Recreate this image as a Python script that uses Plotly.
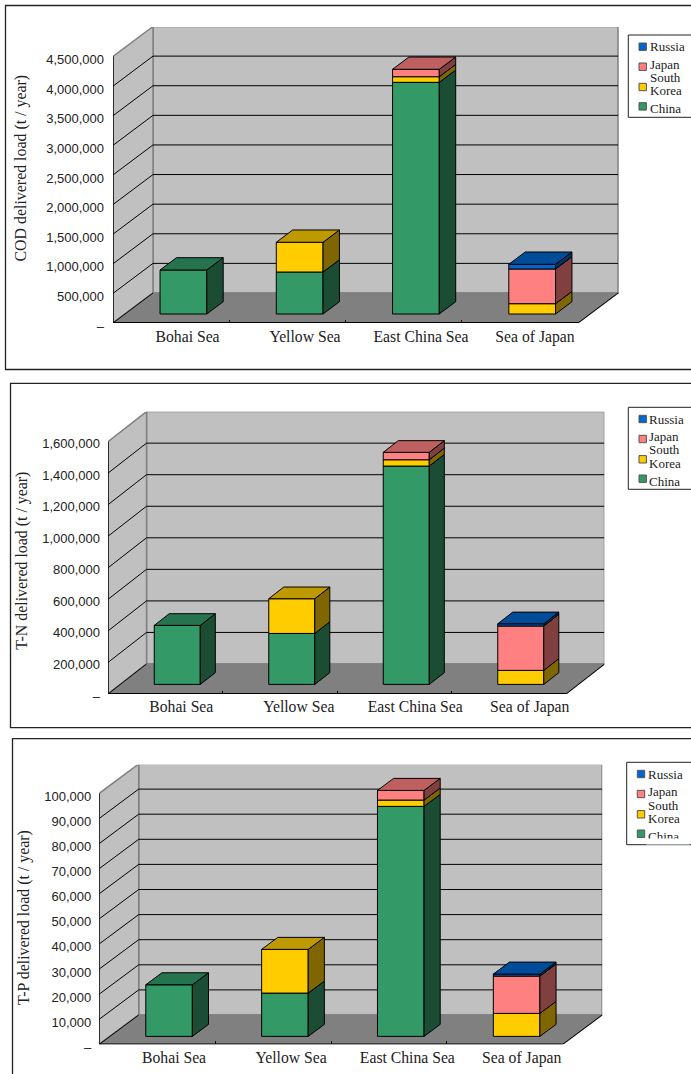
import plotly.graph_objects as go

# Delivered pollutant load to each sea, by source country (t / year)
seas = ["Bohai Sea", "Yellow Sea", "East China Sea", "Sea of Japan"]
countries = ["China", "South Korea", "Japan", "Russia"]

cod_china = [743000, 709000, 3912000, 0]
cod_korea = [0, 502000, 95000, 174000]
cod_japan = [0, 0, 125000, 586000]
cod_russia = [0, 0, 0, 79000]
cod_ticks = [0, 500000, 1000000, 1500000, 2000000, 2500000, 3000000, 3500000, 4000000, 4500000]

tn_china = [374000, 323000, 1384000, 0]
tn_korea = [0, 220000, 40000, 89000]
tn_japan = [0, 0, 47000, 281000]
tn_russia = [0, 0, 0, 14000]
tn_ticks = [0, 200000, 400000, 600000, 800000, 1000000, 1200000, 1400000, 1600000]

tp_china = [20560, 17250, 91630, 0]
tp_korea = [0, 17410, 2520, 9160]
tp_japan = [0, 0, 3850, 14860]
tp_russia = [0, 0, 0, 800]
tp_ticks = [0, 10000, 20000, 30000, 40000, 50000, 60000, 70000, 80000, 90000, 100000]

W, H = 691, 1074
SERIF = "Liberation Serif, Times New Roman, serif"
SANS = "Liberation Sans, Arial, sans-serif"

# face colours per country: front, top, side
faces = {
    "China": ("#339966", "#267350", "#1A4D33"),
    "South Korea": ("#FFCC00", "#BF9900", "#806600"),
    "Japan": ("#FF8080", "#BF6060", "#804040"),
    "Russia": ("#0066CC", "#004C99", "#003366"),
}

# pixel geometry of each 3-D box, plus the frame and key around it
panels = [
    dict(title="COD delivered load (t / year)", series=[cod_china, cod_korea, cod_japan, cod_russia],
         ticks=cod_ticks, left=113, floor=323, cat_w=116.25, dx=40, dy=30, right=619, top=27,
         step_px=29.61, front=0.30, bar_d=0.41, bar_nudge=0.3, standoff=8, shift=3, label_gap=2,
         label_off=[16.4, 17.6, 17.4, 15.1], title_x=20.5, title_y=168,
         frame=(5.5, 5.5, 369.5), key=(628.3, 35, 117.3), key_text=650, key_swatch=642.7),
    dict(title="T-N delivered load (t / year)", series=[tn_china, tn_korea, tn_japan, tn_russia],
         ticks=tn_ticks, left=108, floor=694, cat_w=114.5, dx=38.5, dy=30, right=604.3, top=411.7,
         step_px=31.55, front=0.32, bar_d=0.39, bar_nudge=-0.3, standoff=7, shift=2, label_gap=1,
         label_off=[16, 19, 21, 21], title_x=21.7, title_y=561,
         frame=(10.5, 383.3, 727.7), key=(628.3, 407.3, 489.3), key_text=649.3, key_swatch=642.7),
    dict(title="T-P delivered load (t / year)", series=[tp_china, tp_korea, tp_japan, tp_russia],
         ticks=tp_ticks, left=99.3, floor=1044.3, cat_w=115.85, dx=39.4, dy=29.3, right=602.3, top=764.7,
         step_px=25.1, front=0.27, bar_d=0.41, bar_nudge=1.2, standoff=7, shift=3, label_gap=2,
         label_off=[16.8, 18, 18.4, 16.9], title_x=24, title_y=918,
         frame=(12.5, 738.7, 1090), key=(626.7, 762.3, 844.7), key_text=647.7, key_swatch=641),
]

BAR_FRACTION = 0.402
WALL = "#C0C0C0"
FLOOR = "#808080"
EDGE = "#808080"
INK = "#000000"

fig = go.Figure()
shapes, annotations = [], []
layout_axes = {}


def px(x):
    return x / W


def py(y):
    return 1 - y / H


for n, p in enumerate(panels, start=1):
    suffix = "" if n == 1 else str(n)
    xref, yref = f"x{suffix}", f"y{suffix}"
    value_per_px = (p["ticks"][1] - p["ticks"][0]) / p["step_px"]
    dxu = p["dx"] / p["cat_w"]           # full box depth in category units
    dyu = p["dy"] * value_per_px         # full box depth in value units
    ymax_front = p["ticks"][-1]
    n_cat = len(seas)

    def poly(points, fill, line, width=1, layer="below"):
        path = "M " + " L ".join(f"{a},{b}" for a, b in points) + " Z"
        shapes.append(dict(type="path", path=path, xref=xref, yref=yref, fillcolor=fill,
                           line=dict(color=line, width=width), layer=layer))

    def seg(x0, y0, x1, y1, color=INK, width=1):
        shapes.append(dict(type="line", x0=x0, y0=y0, x1=x1, y1=y1, xref=xref, yref=yref,
                           line=dict(color=color, width=width), layer="below"))

    # walls and floor
    poly([(dxu, dyu), (n_cat + dxu, dyu), (n_cat + dxu, ymax_front + dyu), (dxu, ymax_front + dyu)], WALL, EDGE, 1.5)
    poly([(0, 0), (dxu, dyu), (dxu, ymax_front + dyu), (0, ymax_front)], WALL, EDGE, 1.5)
    poly([(0, 0), (n_cat, 0), (n_cat + dxu, dyu), (dxu, dyu)], FLOOR, EDGE, 1.5)

    # gridlines run across the left wall and along the back wall
    for v in p["ticks"][1:-1]:
        seg(0, v, dxu, v + dyu)
        seg(dxu, v + dyu, n_cat + dxu, v + dyu)
    seg(0, 0, dxu, dyu)
    seg(n_cat, 0, n_cat + dxu, dyu)
    seg(0, 0, 0, ymax_front, INK, 1.4)
    seg(0, 0, n_cat, 0, INK, 1.8)

    # 3-D stack: front faces are bars, sides and lids are projected from the same values
    centers = [i + 0.5 + p["front"] * dxu + p["bar_nudge"] / p["cat_w"] for i in range(n_cat)]
    half = BAR_FRACTION / 2
    ddx, ddy = p["bar_d"] * dxu, p["bar_d"] * dyu
    lift = p["front"] * dyu
    running = [0] * n_cat
    for name, values in zip(countries, p["series"]):
        front_c, top_c, side_c = faces[name]
        bases = [lift + r for r in running]
        fig.add_trace(go.Bar(
            x=centers, y=[v if v else None for v in values], base=bases, width=BAR_FRACTION,
            name=name, xaxis=xref, yaxis=yref, showlegend=False,
            marker=dict(color=front_c, line=dict(color=INK, width=1)),
        ))
        sx, sy = [], []
        for c, b, v in zip(centers, bases, values):
            if v:
                r = c + half
                sx += [r, r + ddx, r + ddx, r, r, None]
                sy += [b, b + ddy, b + v + ddy, b + v, b, None]
        fig.add_trace(go.Scatter(x=sx, y=sy, mode="lines", fill="toself", fillcolor=side_c,
                                 line=dict(color=INK, width=1), xaxis=xref, yaxis=yref,
                                 name=name + " side", showlegend=False, hoverinfo="skip"))
        running = [r + v for r, v in zip(running, values)]

    # the lid takes the colour of the uppermost non-empty segment
    for i, c in enumerate(centers):
        owner = [name for name, vals in zip(countries, p["series"]) if vals[i]][-1]
        t = lift + running[i]
        fig.add_trace(go.Scatter(
            x=[c - half, c + half, c + half + ddx, c - half + ddx, c - half],
            y=[t, t, t + ddy, t + ddy, t],
            mode="lines", fill="toself", fillcolor=faces[owner][1],
            line=dict(color=INK, width=1), xaxis=xref, yaxis=yref,
            name=owner + " lid", showlegend=False, hoverinfo="skip"))

    xrange_max = (p["right"] - p["left"]) / p["cat_w"]
    yrange_max = (p["floor"] - p["top"]) * value_per_px
    layout_axes[f"xaxis{suffix}"] = dict(
        domain=[px(p["left"]), px(p["right"])], range=[0, xrange_max], anchor=yref,
        showgrid=False, zeroline=False, showline=False, fixedrange=True,
        tickmode="array", ticks="",
        tickvals=[i + 0.5 + off / p["cat_w"] for i, off in enumerate(p["label_off"])],
        ticktext=seas, tickfont=dict(family=SERIF, size=15.7, color="#222222"),
        ticklabelstandoff=p["label_gap"],
        minor=dict(tickmode="array", tickvals=[1, 2, 3], ticks="inside", ticklen=3,
                   tickwidth=1, tickcolor=INK, showgrid=False),
    )
    layout_axes[f"yaxis{suffix}"] = dict(
        domain=[py(p["floor"]), py(p["top"])], range=[0, yrange_max], anchor=xref,
        showgrid=False, zeroline=False, showline=False, fixedrange=True,
        tickmode="array", ticks="", tickvals=p["ticks"],
        ticktext=["–" if v == 0 else f"{v:,}" for v in p["ticks"]],
        tickfont=dict(family=SANS, size=13, color="#222222"),
        ticklabelstandoff=p["standoff"], ticklabelshift=p["shift"],
    )

    annotations.append(dict(text=p["title"], x=px(p["title_x"]), y=py(p["title_y"]), xref="paper", yref="paper",
                            textangle=-90, showarrow=False, xanchor="center", yanchor="middle",
                            font=dict(family=SERIF, size=15.9, color="#222222")))

    # frame, open past the right edge of the page
    fx, ft, fb = p["frame"]
    shapes.append(dict(type="rect", xref="paper", yref="paper", x0=px(fx), x1=px(720), y0=py(fb), y1=py(ft),
                       line=dict(color="#222222", width=1.3), fillcolor="rgba(0,0,0,0)", layer="below"))

    # key
    kx, kt, kb = p["key"]
    shapes.append(dict(type="rect", xref="paper", yref="paper", x0=px(kx), x1=px(720), y0=py(kb), y1=py(kt),
                       line=dict(color="#222222", width=1), fillcolor="white", layer="above"))
    key_rows = [("Russia", 11.7), ("Japan", 31.7), ("South Korea", 52), ("China", 71.4)]
    for name, off in key_rows:
        cy = kt + off
        sx = p["key_swatch"]
        shapes.append(dict(type="rect", xref="paper", yref="paper", x0=px(sx - 3.7), x1=px(sx + 3.7),
                           y0=py(cy + 3.7), y1=py(cy - 3.7), fillcolor=faces[name][0],
                           line=dict(color="#555555", width=1), layer="above"))
    for line, off in [("Russia", 11.7), ("Japan", 29.5), ("South", 42.7), ("Korea", 55.7), ("China", 73.7)]:
        annotations.append(dict(text=line, x=px(p["key_text"] - 2), y=py(kt + off), xref="paper", yref="paper",
                                showarrow=False, xanchor="left", yanchor="middle",
                                font=dict(family=SERIF, size=13, color="#222222")))

# the last key entry is cut short by its box
annotations.append(dict(text=" ", x=px(668), y=py(841.5), xref="paper", yref="paper", showarrow=False,
                        xanchor="center", yanchor="middle", width=42, height=5, bgcolor="white",
                        font=dict(size=1), borderpad=0))

fig.update_layout(
    width=W, height=H, autosize=False, margin=dict(l=0, r=0, t=0, b=0, autoexpand=False),
    paper_bgcolor="white", plot_bgcolor="rgba(0,0,0,0)", barmode="overlay", showlegend=False,
    shapes=shapes, annotations=annotations, **layout_axes,
)
fig.write_html("out.html", config=dict(displayModeBar=False))
